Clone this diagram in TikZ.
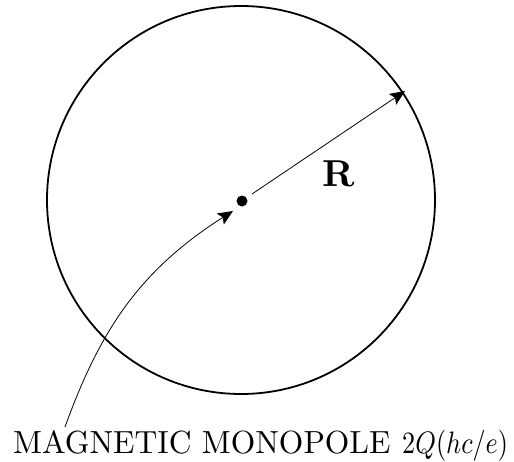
\documentclass[tikz,border=0pt]{standalone}
\usetikzlibrary{arrows.meta}
\begin{document}
\begin{tikzpicture}[x=1pt,y=-1pt,
  rim/.style={line width=1.8pt},
  thinarrow/.style={line width=0.8pt,-{Stealth[length=15pt,width=13pt,inset=3pt]}},
  lbl/.style={inner sep=0pt,anchor=base}]
\useasboundingbox (0,0) rectangle (514,461);
\draw[rim] (241,200) circle[radius=194];
\fill (242,201) circle[radius=5.5];
\coordinate (rimpt) at (405,91);
\coordinate (start) at (252,194);
\draw[thinarrow] (start) -- (rimpt);
\node[lbl] (R) at (339,186) {\scalebox{3.75}{\bfseries R}};
\coordinate (foot) at (65,427);
\coordinate (head) at (233,211);
\draw[thinarrow] (foot) .. controls (100,330) and (140,270) .. (head);
\node[lbl,anchor=base west] (mono) at (13,453) {\scalebox{3.15}[3.2]{MAGNETIC MONOPOLE}};
\node[lbl,anchor=base west] (charge) at (402,453) {\scalebox{2.62}[3.1]{$2Q(hc/e)$}};
\end{tikzpicture}
\end{document}
